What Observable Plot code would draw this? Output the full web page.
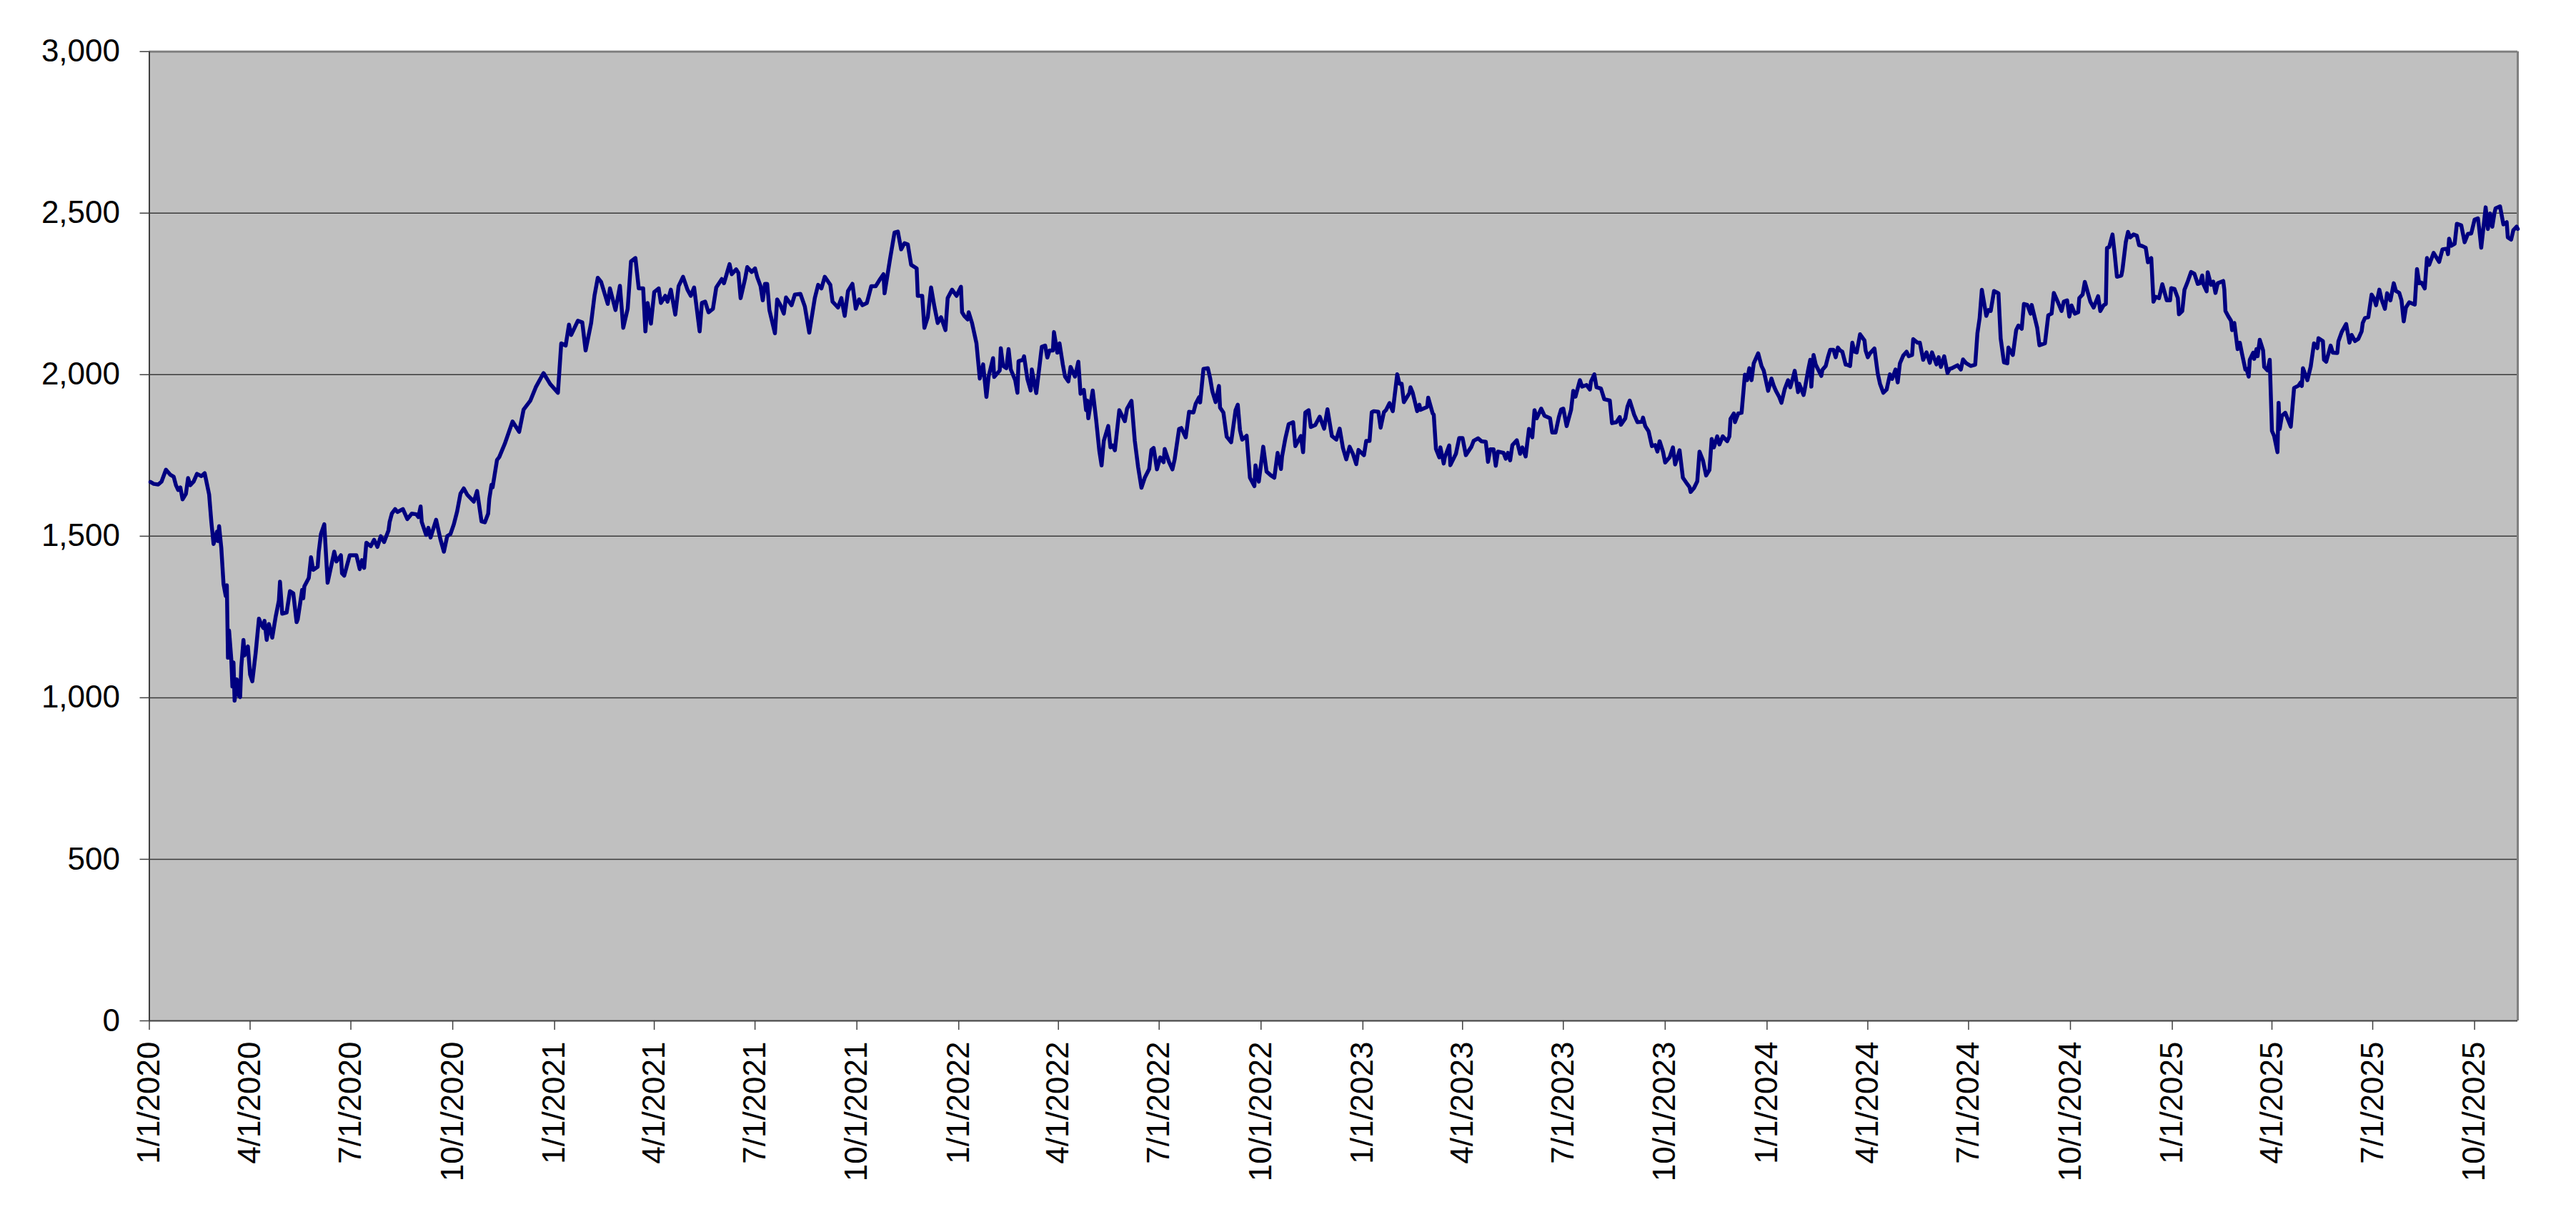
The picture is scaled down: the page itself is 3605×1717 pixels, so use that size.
<!DOCTYPE html>
<html>
<head>
<meta charset="utf-8">
<script src="https://cdn.jsdelivr.net/npm/d3@7"></script>
<script src="https://cdn.jsdelivr.net/npm/@observablehq/plot@0.6"></script>
<style>
  html, body { margin: 0; padding: 0; background: #ffffff; }
  #chart svg { display: block; }
</style>
</head>
<body>
<div id="chart"></div>
<script>
// ---- Data ----
const md2020 = ["01-02","01-05","01-09","01-12","01-16","01-20","01-23","01-25","01-27","01-29","01-31","02-03","02-05","02-07","02-10","02-13","02-17","02-20","02-22","02-24","02-26","02-28","03-02","03-03","03-04","03-06","03-08","03-10","03-11","03-12","03-13","03-15","03-16","03-17","03-18","03-20","03-22","03-23","03-24","03-26","03-27","03-30","04-01","04-03","04-06","04-09","04-11","04-13","04-14","04-16","04-18","04-21","04-24","04-27","04-28","04-30","05-04","05-07","05-10","05-13","05-14","05-18","05-19","05-20","05-24","05-26","05-28","06-01","06-02","06-04","06-07","06-10","06-16","06-18","06-22","06-23","06-25","06-30","07-06","07-09","07-11","07-13","07-15","07-19","07-22","07-25","07-28","07-31","08-04","08-05","08-07","08-10","08-12","08-17","08-21","08-25","08-29","08-31","09-02","09-03","09-07","09-09","09-11","09-16","09-20","09-23","09-26","09-29","10-02","10-05","10-08","10-11","10-14","10-20","10-23","10-27","10-30","11-02","11-03","11-05","11-06","11-10","11-12","11-17","11-24","11-30","12-04","12-10","12-15","12-22","12-28"];
const v2020 = [1668,1662,1660,1669,1706,1690,1684,1658,1643,1651,1614,1631,1680,1658,1669,1693,1686,1695,1662,1629,1544,1476,1514,1485,1531,1463,1352,1315,1348,1124,1208,1120,1035,1109,991,1057,1006,1002,1094,1179,1131,1159,1072,1051,1138,1245,1227,1216,1238,1179,1228,1186,1249,1301,1359,1260,1264,1330,1323,1234,1242,1334,1308,1345,1371,1435,1396,1405,1452,1507,1537,1356,1452,1422,1441,1385,1378,1441,1441,1398,1426,1402,1480,1469,1489,1467,1500,1482,1518,1544,1570,1584,1575,1584,1553,1570,1568,1559,1592,1544,1504,1526,1496,1551,1489,1452,1500,1507,1537,1577,1632,1648,1629,1607,1640,1546,1543,1570,1615,1659,1651,1736,1745,1786,1855,1823,1892,1919,1961,2005,1971];

const md2021 = ["01-04","01-07","01-11","01-14","01-16","01-22","01-26","01-29","02-03","02-06","02-09","02-12","02-18","02-20","02-25","03-01","03-04","03-08","03-11","03-15","03-18","03-22","03-24","03-26","03-29","04-01","04-05","04-07","04-11","04-13","04-16","04-20","04-23","04-27","05-01","05-04","05-07","05-12","05-14","05-17","05-20","05-24","05-27","06-01","06-03","06-08","06-10","06-14","06-16","06-18","06-22","06-24","06-28","07-01","07-03","07-06","07-08","07-10","07-12","07-14","07-19","07-21","07-24","07-27","07-29","08-03","08-06","08-11","08-15","08-19","08-24","08-27","08-30","09-02","09-07","09-09","09-14","09-17","09-20","09-23","09-27","09-30","10-03","10-06","10-10","10-14","10-18","10-22","10-25","10-26","10-31","11-04","11-07","11-10","11-13","11-16","11-19","11-24","11-25","11-29","12-01","12-04","12-07","12-10","12-13","12-16","12-20","12-22","12-26","12-30"];
const v2021 = [1944,2097,2090,2155,2123,2167,2162,2075,2160,2244,2300,2287,2219,2267,2200,2275,2145,2204,2351,2361,2267,2267,2134,2222,2158,2256,2267,2222,2244,2226,2263,2186,2274,2303,2263,2244,2270,2134,2222,2226,2193,2204,2270,2296,2283,2342,2311,2326,2315,2237,2296,2333,2318,2329,2302,2274,2230,2281,2281,2200,2128,2233,2215,2189,2239,2215,2248,2250,2211,2130,2237,2278,2267,2303,2278,2226,2208,2237,2182,2259,2281,2204,2233,2215,2222,2274,2274,2296,2311,2252,2359,2440,2443,2388,2407,2403,2340,2329,2244,2244,2145,2178,2270,2211,2160,2178,2138,2237,2263,2244];

const md2022 = ["01-03","01-04","01-06","01-09","01-10","01-13","01-17","01-20","01-23","01-26","01-28","02-01","02-02","02-07","02-08","02-10","02-13","02-15","02-17","02-21","02-23","02-24","02-28","03-01","03-04","03-07","03-08","03-12","03-17","03-20","03-22","03-24","03-27","03-28","03-31","04-02","04-05","04-07","04-10","04-12","04-16","04-19","04-21","04-24","04-26","04-27","04-28","05-02","05-05","05-08","05-10","05-12","05-16","05-18","05-20","05-22","05-26","05-31","06-02","06-06","06-09","06-12","06-15","06-18","06-22","06-24","06-26","06-29","07-02","07-05","07-06","07-10","07-13","07-15","07-19","07-21","07-25","07-28","08-01","08-03","08-06","08-07","08-10","08-14","08-16","08-18","08-21","08-24","08-25","08-28","08-31","09-04","09-08","09-10","09-12","09-14","09-18","09-21","09-25","09-26","09-29","10-03","10-06","10-10","10-13","10-16","10-19","10-20","10-23","10-26","10-30","11-01","11-06","11-08","11-10","11-13","11-15","11-19","11-23","11-27","11-30","12-04","12-08","12-11","12-14","12-17","12-20","12-23","12-26","12-28"];
const v2022 = [2272,2193,2182,2171,2193,2160,2097,1988,2032,1931,1995,2051,1993,2013,2082,2027,2020,2079,2016,1983,1944,2042,2046,2057,1987,1951,2016,1943,2086,2090,2053,2075,2075,2132,2068,2097,2031,1994,1979,2024,1994,2040,1941,1953,1890,1920,1865,1951,1863,1763,1719,1795,1841,1775,1781,1766,1890,1856,1895,1919,1795,1714,1650,1681,1708,1767,1773,1707,1744,1729,1770,1729,1707,1738,1832,1835,1806,1885,1883,1910,1930,1914,2018,2020,1990,1949,1915,1965,1898,1883,1808,1791,1890,1907,1828,1799,1811,1681,1655,1719,1669,1777,1700,1688,1681,1758,1708,1747,1803,1847,1853,1779,1810,1760,1883,1890,1838,1844,1870,1833,1893,1810,1799,1833,1773,1738,1777,1755,1723,1767];

const md2023 = ["01-02","01-04","01-07","01-09","01-11","01-15","01-17","01-20","01-22","01-25","01-28","02-01","02-03","02-05","02-07","02-12","02-13","02-15","02-19","02-21","02-22","02-28","03-01","03-05","03-06","03-08","03-11","03-12","03-15","03-16","03-20","03-21","03-26","03-29","04-01","04-04","04-09","04-11","04-15","04-18","04-22","04-24","04-26","04-29","05-01","05-03","05-08","05-10","05-12","05-14","05-16","05-20","05-23","05-25","05-28","05-31","06-03","06-05","06-07","06-11","06-14","06-19","06-21","06-24","06-27","06-29","07-01","07-04","07-08","07-10","07-12","07-16","07-18","07-22","07-25","07-26","07-29","07-31","08-04","08-07","08-12","08-14","08-18","08-21","08-22","08-26","08-28","08-30","09-03","09-06","09-10","09-11","09-13","09-16","09-19","09-22","09-24","09-26","09-29","10-01","10-05","10-08","10-10","10-14","10-17","10-20","10-23","10-24","10-27","10-30","11-01","11-04","11-07","11-10","11-12","11-14","11-17","11-19","11-22","11-26","11-28","11-29","12-02","12-03","12-06","12-09","12-12","12-14","12-16","12-18","12-20","12-24","12-27","12-29"];
const v2023 = [1751,1795,1795,1884,1887,1885,1836,1884,1891,1912,1887,2001,1972,1972,1915,1943,1961,1944,1887,1907,1891,1900,1929,1880,1876,1770,1744,1775,1725,1744,1781,1720,1755,1804,1804,1751,1777,1795,1803,1794,1792,1730,1769,1769,1718,1762,1758,1740,1758,1735,1782,1797,1755,1775,1747,1832,1806,1890,1865,1895,1873,1865,1821,1821,1869,1892,1895,1841,1891,1950,1932,1983,1963,1968,1954,1979,2001,1961,1957,1924,1920,1850,1853,1869,1845,1865,1902,1920,1876,1853,1854,1867,1841,1825,1779,1782,1762,1794,1762,1728,1744,1775,1722,1766,1681,1666,1652,1637,1649,1670,1762,1736,1688,1705,1801,1775,1809,1784,1809,1794,1809,1863,1880,1853,1880,1882,2000,1983,2020,1983,2035,2066,2027,2013];

const md2024 = ["01-02","01-05","01-07","01-09","01-12","01-14","01-17","01-20","01-22","01-24","01-26","01-29","01-30","02-03","02-04","02-07","02-09","02-10","02-12","02-14","02-19","02-20","02-23","02-25","02-27","03-01","03-03","03-05","03-07","03-09","03-12","03-13","03-16","03-18","03-20","03-22","03-25","03-29","03-30","04-01","04-03","04-07","04-10","04-12","04-15","04-18","04-21","04-23","04-26","04-28","04-30","05-03","05-06","05-08","05-11","05-12","05-16","05-18","05-21","05-24","05-27","05-29","06-02","06-04","06-06","06-09","06-12","06-14","06-16","06-21","06-24","06-26","06-29","07-03","07-07","07-09","07-11","07-13","07-17","07-19","07-21","07-24","07-28","07-30","08-02","08-05","08-06","08-10","08-13","08-15","08-18","08-20","08-23","08-26","08-27","09-01","09-03","09-08","09-11","09-14","09-16","09-20","09-23","09-25","09-28","09-30","10-02","10-05","10-08","10-09","10-12","10-14","10-16","10-19","10-22","10-26","10-28","10-31","11-02","11-03","11-05","11-08","11-10","11-12","11-16","11-17","11-20","11-22","11-24","11-27","11-30","12-02","12-05","12-08","12-10","12-13","12-15","12-17","12-20","12-23","12-27","12-30","12-31"];
const v2024 = [1950,1988,1966,1950,1931,1913,1956,1983,1961,1985,2012,1946,1972,1937,1954,2012,2046,1963,2061,2031,1996,2015,2027,2054,2077,2077,2054,2084,2075,2071,2031,2031,2027,2099,2071,2069,2125,2106,2075,2054,2066,2081,2003,1972,1944,1954,2001,1987,2016,1976,2035,2059,2071,2057,2061,2110,2099,2099,2046,2069,2037,2069,2032,2054,2024,2057,2005,2018,2020,2029,2016,2047,2035,2027,2031,2128,2175,2263,2182,2200,2197,2259,2252,2112,2038,2035,2084,2061,2138,2152,2142,2219,2216,2189,2216,2145,2091,2097,2184,2189,2253,2222,2197,2226,2230,2180,2214,2189,2193,2237,2248,2287,2263,2226,2208,2243,2197,2215,2219,2392,2395,2434,2373,2303,2307,2325,2410,2442,2425,2434,2430,2401,2398,2393,2348,2361,2226,2241,2237,2280,2230,2230,2268];

const md2025 = ["01-03","01-06","01-07","01-10","01-12","01-15","01-18","01-21","01-24","01-26","01-28","01-29","02-01","02-02","02-05","02-07","02-09","02-11","02-16","02-17","02-18","02-21","02-23","02-24","02-26","03-01","03-03","03-05","03-08","03-09","03-11","03-12","03-15","03-16","03-18","03-19","03-21","03-24","03-25","03-28","03-30","04-01","04-03","04-06","04-07","04-08","04-10","04-13","04-15","04-18","04-21","04-25","04-27","04-28","04-29","05-03","05-06","05-09","05-12","05-13","05-17","05-18","05-20","05-24","05-26","05-30","05-31","06-03","06-07","06-10","06-12","06-15","06-18","06-21","06-22","06-24","06-27","06-30","07-02","07-04","07-07","07-09","07-12","07-14","07-17","07-20","07-22","07-25","07-27","07-29","07-31","08-03","08-08","08-10","08-12","08-14","08-17","08-19","08-21","08-25","08-30","09-02","09-06","09-07","09-08","09-10","09-13","09-15","09-19","09-22","09-25","09-28","10-01","10-04","10-05","10-07","10-11","10-13","10-15","10-17","10-19","10-20","10-24","10-27","10-30","10-31","11-03","11-05","11-08","11-09"];
const v2025 = [2265,2237,2187,2197,2263,2289,2318,2312,2281,2283,2307,2281,2258,2317,2278,2288,2253,2283,2290,2263,2197,2178,2167,2138,2160,2079,2099,2064,2016,2018,1994,2046,2068,2049,2079,2057,2108,2075,2024,2013,2046,1826,1810,1760,1913,1832,1873,1882,1865,1839,1959,1966,1976,1965,2020,1983,2025,2097,2082,2113,2104,2046,2040,2090,2068,2067,2103,2132,2157,2099,2123,2104,2111,2134,2160,2175,2178,2248,2237,2215,2263,2233,2204,2252,2230,2283,2259,2253,2230,2165,2208,2224,2217,2327,2283,2285,2267,2361,2340,2377,2349,2388,2390,2373,2421,2399,2405,2467,2462,2410,2436,2437,2480,2484,2458,2393,2518,2451,2499,2458,2501,2515,2521,2465,2472,2425,2418,2447,2458,2451];

const yTicks = [0, 500, 1000, 1500, 2000, 2500, 3000];
const xTickDates = ["2020-01-01","2020-04-01","2020-07-01","2020-10-01","2021-01-01","2021-04-01","2021-07-01","2021-10-01","2022-01-01","2022-04-01","2022-07-01","2022-10-01","2023-01-01","2023-04-01","2023-07-01","2023-10-01","2024-01-01","2024-04-01","2024-07-01","2024-10-01","2025-01-01","2025-04-01","2025-07-01","2025-10-01"];
const xDomain = ["2020-01-01", "2025-11-09"];

// ---- Build table ----
const years = [[2020, md2020, v2020],[2021, md2021, v2021],[2022, md2022, v2022],[2023, md2023, v2023],[2024, md2024, v2024],[2025, md2025, v2025]];
const data = years.flatMap(([yr, mds, vals]) => mds.map((md, i) => ({date: new Date(`${yr}-${md}T00:00:00Z`), value: vals[i]})));
const xTicks = xTickDates.map(s => new Date(s + "T00:00:00Z"));
const dom = xDomain.map(s => new Date(s + "T00:00:00Z"));

const chart = Plot.plot({
  width: 3605,
  height: 1717,
  marginLeft: 208.5,
  marginRight: 82,
  marginTop: 71.7,
  marginBottom: 289,
  style: {fontFamily: "'Liberation Sans', Arial, sans-serif", fontSize: "44px", background: "#ffffff", color: "#000000"},
  x: {type: "utc", domain: dom},
  y: {domain: [0, 3000]},
  marks: [
    Plot.frame({fill: "#c0c0c0", stroke: null}),
    Plot.gridY(yTicks.slice(1, -1), {stroke: "#3a3a3a", strokeOpacity: 1, strokeWidth: 1.5}),
    Plot.ruleY([3000], {stroke: "#808080", strokeWidth: 3}),
    Plot.ruleX([dom[1]], {stroke: "#808080", strokeWidth: 3}),
    Plot.ruleX([dom[0]], {stroke: "#404040", strokeWidth: 2}),
    Plot.ruleY([0], {stroke: "#404040", strokeWidth: 2}),
    Plot.axisY({ticks: yTicks, tickFormat: d3.format(","), tickSize: 13, tickPadding: 28, fontSize: 44, stroke: "#404040", strokeWidth: 1.5, label: null}),
    Plot.axisX({ticks: xTicks, tickFormat: d3.utcFormat("%-m/%-d/%Y"), tickSize: 13, tickPadding: 16, tickRotate: -90, fontSize: 44, stroke: "#404040", strokeWidth: 1.5, label: null}),
    Plot.line(data, {x: "date", y: "value", stroke: "#000080", strokeWidth: 5.5, strokeLinejoin: "round", strokeLinecap: "round"})
  ]
});
document.getElementById("chart").appendChild(chart);
</script>
</body>
</html>
